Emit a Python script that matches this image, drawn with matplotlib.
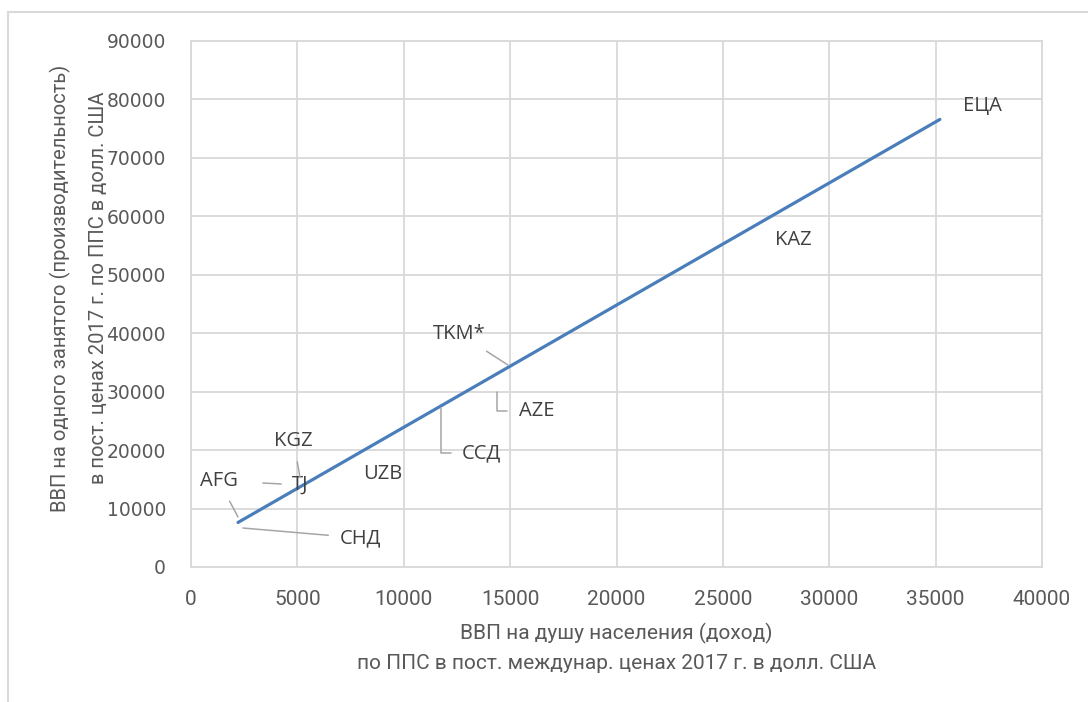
import numpy as np
import matplotlib
matplotlib.use("Agg")
import matplotlib.pyplot as plt
from matplotlib import font_manager
from matplotlib.patches import Rectangle

# ---- data ----
codes = ["AFG", "СНД", "TJ", "KGZ", "UZB", "ССД", "AZE", "TKM*", "KAZ", "ЕЦА"]
gdp_per_capita = [2210, 2440, 3380, 5120, 7700, 11750, 14380, 14900, 27200, 35200]
gdp_per_worker = [8550, 6670, 14370, 15400, 15900, 27200, 29950, 34560, 57500, 79700]
# label centres in data units
label_x = [1310, 7950, 5150, 4820, 9030, 13660, 16230, 12630, 28300, 37190]
label_y = [14720, 4960, 14030, 21560, 15910, 19500, 26700, 39870, 55950, 78890]
leader = [True, True, True, True, False, True, True, True, False, False]
elbow = [False, False, False, False, False, True, True, False, False, False]

x_ticks = list(range(0, 40001, 5000))
y_ticks = list(range(0, 90001, 10000))
x_title = "ВВП на душу населения (доход)\nпо ППС в пост. междунар. ценах 2017 г. в долл. США"
y_title = "ВВП на одного занятого (производительность)\nв пост. ценах 2017 г. по ППС в долл. США"

names = {f.name for f in font_manager.fontManager.ttflist}
narrow = "Liberation Sans Narrow" if "Liberation Sans Narrow" in names else "Roboto"

fig = plt.figure(figsize=(10.88, 7.02), dpi=100)
ax = fig.add_axes([191 / 1088, 1 - 567 / 702, 851 / 1088, 526 / 702])

# outer chart border
fig.patches.append(Rectangle((8 / 1088, -0.05), 1.2, 1 - 12 / 702 + 0.05,
                             transform=fig.transFigure, fill=False,
                             edgecolor="#d9d9d9", lw=1.5))

# linear trendline over data range
coef = np.polyfit(gdp_per_capita, gdp_per_worker, 1)
xs = np.array([min(gdp_per_capita), max(gdp_per_capita)])
ax.plot(xs, np.polyval(coef, xs), color="#4a7ebb", lw=2.3, solid_capstyle="round", zorder=3)

for i, c in enumerate(codes):
    kw = dict(ha="center", va="center", fontsize=14.5, color="#404040",
              family="Open Sans", zorder=4)
    if leader[i]:
        cs = "angle,angleA=0,angleB=90,rad=0" if elbow[i] else "arc3"
        ax.annotate(c, xy=(gdp_per_capita[i], gdp_per_worker[i]),
                    xytext=(label_x[i], label_y[i]),
                    arrowprops=dict(arrowstyle="-", color="#a6a6a6", lw=1.1,
                                    shrinkA=6, shrinkB=0, connectionstyle=cs),
                    **kw)
    else:
        ax.text(label_x[i], label_y[i], c, **kw)

ax.set_xlim(0, 40000)
ax.set_ylim(0, 90000)
ax.set_xticks(x_ticks)
ax.set_yticks(y_ticks)
ax.set_xticklabels([str(v) for v in x_ticks], family=narrow, fontsize=15, color="#595959")
ax.set_yticklabels([str(v) for v in y_ticks], family="DejaVu Sans", fontsize=13.5, color="#595959")
ax.tick_params(length=0)
ax.tick_params(axis="x", pad=16.5)
ax.tick_params(axis="y", pad=18)
ax.grid(True, color="#d9d9d9", lw=1.3)
ax.set_axisbelow(True)
for s in ax.spines.values():
    s.set_color("#d9d9d9")
    s.set_linewidth(1.3)

ax.set_xlabel(x_title, family=narrow, fontsize=15, color="#595959", labelpad=10, linespacing=1.7)
ax.set_ylabel(y_title, family=narrow, fontsize=14.5, color="#595959", labelpad=-1, linespacing=2.2)
ax.yaxis.label.set_y(0.53)

fig.savefig("out.png", dpi=100)
